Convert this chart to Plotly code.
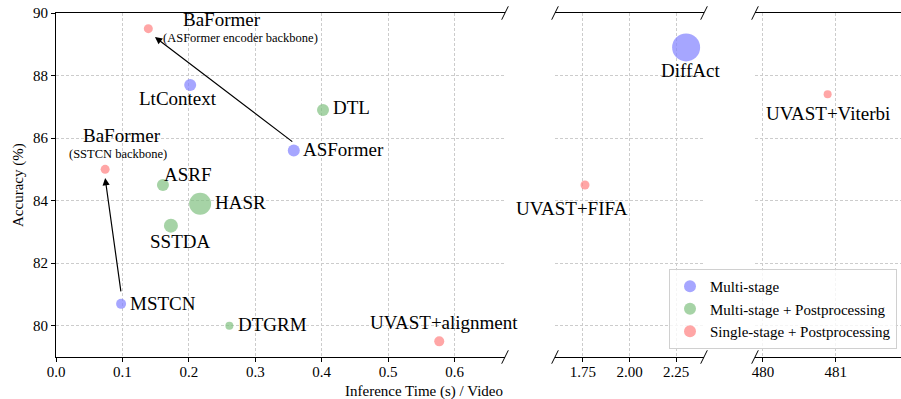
import plotly.graph_objects as go

# ---- data ----
methods = ["MSTCN", "DTGRM", "UVAST+alignment", "SSTDA", "HASR", "ASRF",
           "BaFormer", "ASFormer", "DTL", "LtContext", "BaFormer2",
           "UVAST+FIFA", "DiffAct", "UVAST+Viterbi"]
time_s = [0.098, 0.261, 0.577, 0.173, 0.217, 0.161,
          0.074, 0.358, 0.402, 0.202, 0.139,
          1.761, 2.304, 480.89]
accuracy = [80.7, 80.0, 79.5, 83.2, 83.9, 84.5,
            85.0, 85.6, 86.9, 87.7, 89.5,
            84.5, 88.9, 87.4]
category = ["Multi-stage", "Multi-stage + Postprocessing", "Single-stage + Postprocessing",
            "Multi-stage + Postprocessing", "Multi-stage + Postprocessing", "Multi-stage + Postprocessing",
            "Single-stage + Postprocessing", "Multi-stage", "Multi-stage + Postprocessing", "Multi-stage",
            "Single-stage + Postprocessing",
            "Single-stage + Postprocessing", "Multi-stage", "Single-stage + Postprocessing"]
marker_size = [10, 8, 10, 14, 22, 12, 9, 12, 12, 12, 9, 9, 28, 8]
panel = [1, 1, 1, 1, 1, 1, 1, 1, 1, 1, 1, 2, 2, 3]

categories = ["Multi-stage", "Multi-stage + Postprocessing", "Single-stage + Postprocessing"]
colors = {"Multi-stage": "#8080ff",
          "Multi-stage + Postprocessing": "#80c080",
          "Single-stage + Postprocessing": "#ff8080"}

# label text and offsets (px) relative to the point
labels = {
    "MSTCN": ("MSTCN", "left", 7, 0),
    "DTGRM": ("DTGRM", "left", 7, 1),
    "UVAST+alignment": ("UVAST+alignment", "center", 5, 19),
    "SSTDA": ("SSTDA", "center", 9, -16),
    "HASR": ("HASR", "left", 13, 1),
    "ASRF": ("ASRF", "center", 25, 11),
    "BaFormer": ("BaFormer", "center", 17, 34),
    "ASFormer": ("ASFormer", "left", 7, 1),
    "DTL": ("DTL", "left", 8, 2),
    "LtContext": ("LtContext", "center", -12, -14),
    "BaFormer2": ("BaFormer", "center", 74, 9),
    "UVAST+FIFA": ("UVAST+FIFA", "center", -13, -23),
    "DiffAct": ("DiffAct", "center", 4, -23),
    "UVAST+Viterbi": ("UVAST+Viterbi", "center", 0, -19),
}
sublabels = {
    "BaFormer": ("(SSTCN backbone)", 13, 15),
    "BaFormer2": ("(ASFormer encoder backbone)", 92, -9),
}
# arrows: (from method, to method, tail dy, tip dx, tip dy) in data units
arrows = [("MSTCN", "BaFormer", 0.35, 0.0, -0.28),
          ("ASFormer", "BaFormer2", 0.25, 0.010, -0.27)]

x_ticks1 = [0.0, 0.1, 0.2, 0.3, 0.4, 0.5, 0.6]
x_ticks2 = [1.75, 2.00, 2.25]
x_ticks3 = [480, 481]
y_ticks = [80, 82, 84, 86, 88, 90]

FONT = "Times New Roman, Liberation Serif, Times, serif"
W, H = 901, 399
ml, mr, mt, mb = 56, 0, 13, 42
pw = W - ml - mr
ph = H - mt - mb
dom1 = [0, (505 - ml) / pw]
dom2 = [(555 - ml) / pw, (704 - ml) / pw]
dom3 = [(755 - ml) / pw, 1.0]

fig = go.Figure()
axname = {1: ("x", "y"), 2: ("x2", "y2"), 3: ("x3", "y3")}

for cat in categories:
    first = True
    for p in (1, 2, 3):
        xs = [time_s[i] for i in range(len(methods)) if category[i] == cat and panel[i] == p]
        ys = [accuracy[i] for i in range(len(methods)) if category[i] == cat and panel[i] == p]
        ss = [marker_size[i] for i in range(len(methods)) if category[i] == cat and panel[i] == p]
        if not xs:
            continue
        fig.add_trace(go.Scatter(
            x=xs, y=ys, mode="markers", name=cat, legendgroup=cat,
            showlegend=first,
            marker=dict(size=ss, color=colors[cat], line=dict(width=0)),
            xaxis=axname[p][0], yaxis=axname[p][1]))
        first = False

annotations = []
for i, m in enumerate(methods):
    txt, anchor, dx, dy = labels[m]
    xa, ya = axname[panel[i]]
    annotations.append(dict(x=time_s[i], y=accuracy[i], xref=xa, yref=ya, text=txt,
                            showarrow=False, xanchor=anchor, yanchor="middle",
                            xshift=dx, yshift=dy, font=dict(family=FONT, size=19, color="black")))
    if m in sublabels:
        st, sdx, sdy = sublabels[m]
        annotations.append(dict(x=time_s[i], y=accuracy[i], xref=xa, yref=ya, text=st,
                                showarrow=False, xanchor="center", yanchor="middle",
                                xshift=sdx, yshift=sdy, font=dict(family=FONT, size=12.5, color="black")))

idx = {m: i for i, m in enumerate(methods)}
for a, b, tdy, hdx, hdy in arrows:
    ia, ib = idx[a], idx[b]
    annotations.append(dict(x=time_s[ib] + hdx, y=accuracy[ib] + hdy, xref="x", yref="y",
                            ax=time_s[ia], ay=accuracy[ia] + tdy, axref="x", ayref="y",
                            text="", showarrow=True, arrowhead=2, arrowsize=1.2,
                            arrowwidth=1.2, arrowcolor="black", standoff=0, startstandoff=0))

annotations.append(dict(x=dom1[1], y=-(391 - (H - mb)) / ph, xref="paper", yref="paper",
                        text="Inference Time (s) / Video", showarrow=False, xanchor="right",
                        yanchor="middle", font=dict(family=FONT, size=15, color="black")))
annotations.append(dict(x=(18 - ml) / pw, y=0.5, xref="paper", yref="paper",
                        text="Accuracy (%)", showarrow=False, textangle=-90, xanchor="center",
                        yanchor="middle", font=dict(family=FONT, size=15, color="black")))

# break marks
shapes = []
for xe in [dom1[1], dom2[0], dom2[1], dom3[0]]:
    for ye in [0, 1]:
        shapes.append(dict(type="line", xref="paper", yref="paper",
                           xsizemode="pixel", ysizemode="pixel", xanchor=xe, yanchor=ye,
                           x0=-3.3, x1=3.3, y0=-6.7, y1=6.7,
                           line=dict(color="black", width=1)))

grid = dict(showgrid=True, gridcolor="#cccccc", griddash="3px,2px", gridwidth=0.7)
common_x = dict(showline=True, linecolor="black", linewidth=1.2, mirror=True,
                ticks="outside", ticklen=4, tickcolor="black", zeroline=False, automargin=False,
                ticklabelstandoff=-3,
                tickfont=dict(family=FONT, size=15, color="black"), **grid)

fig.update_layout(
    width=W, height=H, margin=dict(l=ml, r=mr, t=mt, b=mb, autoexpand=False),
    paper_bgcolor="white", plot_bgcolor="white",
    font=dict(family=FONT, color="black"),
    xaxis=dict(domain=dom1, range=[0, 0.676], tickvals=x_ticks1, tickformat=".1f",
               anchor="y", **common_x),
    xaxis2=dict(domain=dom2, range=[1.6, 2.4], tickvals=x_ticks2, tickformat=".2f",
                anchor="y2", **common_x),
    xaxis3=dict(domain=dom3, range=[479.89, 481.9], tickvals=x_ticks3, tickformat="d",
                anchor="y3", **common_x),
    yaxis=dict(range=[79, 90], tickvals=y_ticks, showline=True, linecolor="black", linewidth=1.2,
               ticks="outside", ticklen=4, tickcolor="black", zeroline=False, automargin=False,
               tickfont=dict(family=FONT, size=15, color="black"), anchor="x", **grid),
    yaxis2=dict(range=[79, 90], tickvals=y_ticks, showticklabels=False, showline=False,
                zeroline=False, anchor="x2", automargin=False, **grid),
    yaxis3=dict(range=[79, 90], tickvals=y_ticks, showticklabels=False, showline=False,
                zeroline=False, anchor="x3", automargin=False, **grid),
    legend=dict(x=(897 - ml) / pw, y=(H - mb - 349) / ph, xanchor="right", yanchor="bottom",
                bgcolor="rgba(255,255,255,0.8)", bordercolor="#d0d0d0", borderwidth=1,
                font=dict(family=FONT, size=15, color="black"), itemsizing="constant",
                tracegroupgap=0),
    annotations=annotations, shapes=shapes, showlegend=True,
)

fig.write_html("out.html", config={"displayModeBar": False},
               post_script="document.body.style.margin='0';document.body.style.overflow='hidden';")
